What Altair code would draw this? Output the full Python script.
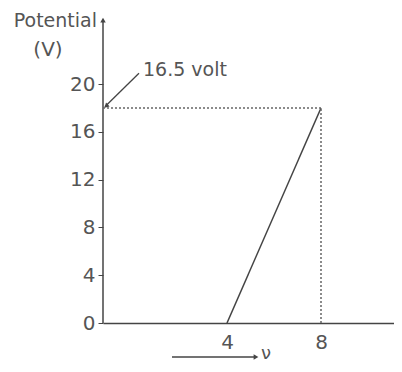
import altair as alt
import pandas as pd

# ---- data ----
nu_vals = [4, 8]            # frequency (x)
pot_vals = [0, 18]          # potential (V)
y_ticks = [0, 4, 8, 12, 16, 20]
x_ticks = [4, 8]
annot_text = "16.5 volt"
y_title = "Potential"
y_unit = "(V)"
x_title = "ν"

FONT = "DejaVu Sans"
GREY = "#555555"
DARK = "#444444"

XDOM = [0, 4, 8, 11.1]
XRNG = [0, 124, 218, 291]
YMAX = 26.03      # top of plot area
YAXIS_TOP = 25.36 # tip of the y-axis arrow

xs = alt.Scale(domain=XDOM, range=XRNG, nice=False, zero=False)
ys = alt.Scale(domain=[0, YMAX], nice=False, zero=False)

line_df = pd.DataFrame({"nu": nu_vals, "V": pot_vals})
dash_df = pd.DataFrame({
    "x": [0, nu_vals[1]], "x2": [nu_vals[1], nu_vals[1]],
    "y": [pot_vals[1], 0], "y2": [pot_vals[1], pot_vals[1]],
})
one = pd.DataFrame({"a": [0]})

main = alt.Chart(line_df).mark_line(color=DARK, strokeWidth=1.5).encode(
    x=alt.X("nu:Q", scale=xs, axis=alt.Axis(values=x_ticks, title=None, ticks=False,
                                             labelPadding=9, domainColor=DARK, domainWidth=1.5,
                                             labelFontSize=20, labelColor=GREY, labelFont=FONT,
                                             grid=False)),
    y=alt.Y("V:Q", scale=ys, axis=alt.Axis(values=y_ticks, title=None, tickSize=5,
                                            tickColor=DARK, labelPadding=3, domain=False,
                                            labelFontSize=20, labelColor=GREY,
                                            labelFont=FONT, grid=False)),
)

yaxis_line = alt.Chart(pd.DataFrame({"x": [0], "y": [0], "y2": [YAXIS_TOP]})).mark_rule(
    color=DARK, strokeWidth=1.5).encode(
    x=alt.X("x:Q", scale=xs), y=alt.Y("y:Q", scale=ys), y2="y2:Q")
yhead = alt.Chart(pd.DataFrame({"x": [0], "y": [YAXIS_TOP]})).mark_point(
    shape="triangle-up", filled=True, size=30, color=DARK, opacity=1
).encode(x=alt.X("x:Q", scale=xs), y=alt.Y("y:Q", scale=ys))

dashed = alt.Chart(dash_df).mark_rule(color="#666666", strokeDash=[2, 2], strokeWidth=1.5).encode(
    x=alt.X("x:Q", scale=xs), x2="x2:Q", y=alt.Y("y:Q", scale=ys), y2="y2:Q"
)

ann_df = pd.DataFrame({"x": [1.16], "y": [20.9], "x2": [0.06], "y2": [18.1]})
ann_line = alt.Chart(ann_df).mark_rule(color=DARK, strokeWidth=1.3).encode(
    x=alt.X("x:Q", scale=xs), x2="x2:Q", y=alt.Y("y:Q", scale=ys), y2="y2:Q"
)
ann_head = alt.Chart(pd.DataFrame({"x": [0.12], "y": [18.2]})).mark_point(
    shape="triangle", filled=True, size=28, color=DARK, angle=227, opacity=1
).encode(x=alt.X("x:Q", scale=xs), y=alt.Y("y:Q", scale=ys))
ann_label = alt.Chart(pd.DataFrame({"x": [1.29], "y": [21.2], "t": [annot_text]})).mark_text(
    align="left", baseline="middle", fontSize=19, font=FONT, color=GREY
).encode(x=alt.X("x:Q", scale=xs), y=alt.Y("y:Q", scale=ys), text="t:N")

t_pot = alt.Chart(one).mark_text(align="right", baseline="middle", fontSize=19, font=FONT,
                                  color=GREY, text=y_title).encode(x=alt.value(-6), y=alt.value(9))
t_unit = alt.Chart(one).mark_text(align="center", baseline="middle", fontSize=20, font=FONT,
                                   color=GREY, text=y_unit).encode(x=alt.value(-55), y=alt.value(38))
b_arrow = alt.Chart(one).mark_rule(color=DARK, strokeWidth=1.5).encode(
    x=alt.value(69), x2=alt.value(153), y=alt.value(345))
b_head = alt.Chart(one).mark_point(shape="triangle-right", filled=True, size=30, color=DARK,
                                   opacity=1).encode(x=alt.value(153), y=alt.value(345))
t_nu = alt.Chart(one).mark_text(align="left", baseline="middle", fontSize=18, font=FONT,
                                 color=GREY, text=x_title).encode(x=alt.value(158), y=alt.value(342))

chart = alt.layer(main, yaxis_line, yhead, dashed, ann_line, ann_head, ann_label,
                  t_pot, t_unit, b_arrow, b_head, t_nu).properties(
    width=291, height=311,
    autosize=alt.AutoSizeParams(type="none"),
    padding={"left": 95, "top": 4, "right": 0, "bottom": 41},
).configure_view(stroke=None)

chart.save("out.html", embed_options={"renderer": "svg", "actions": False})
